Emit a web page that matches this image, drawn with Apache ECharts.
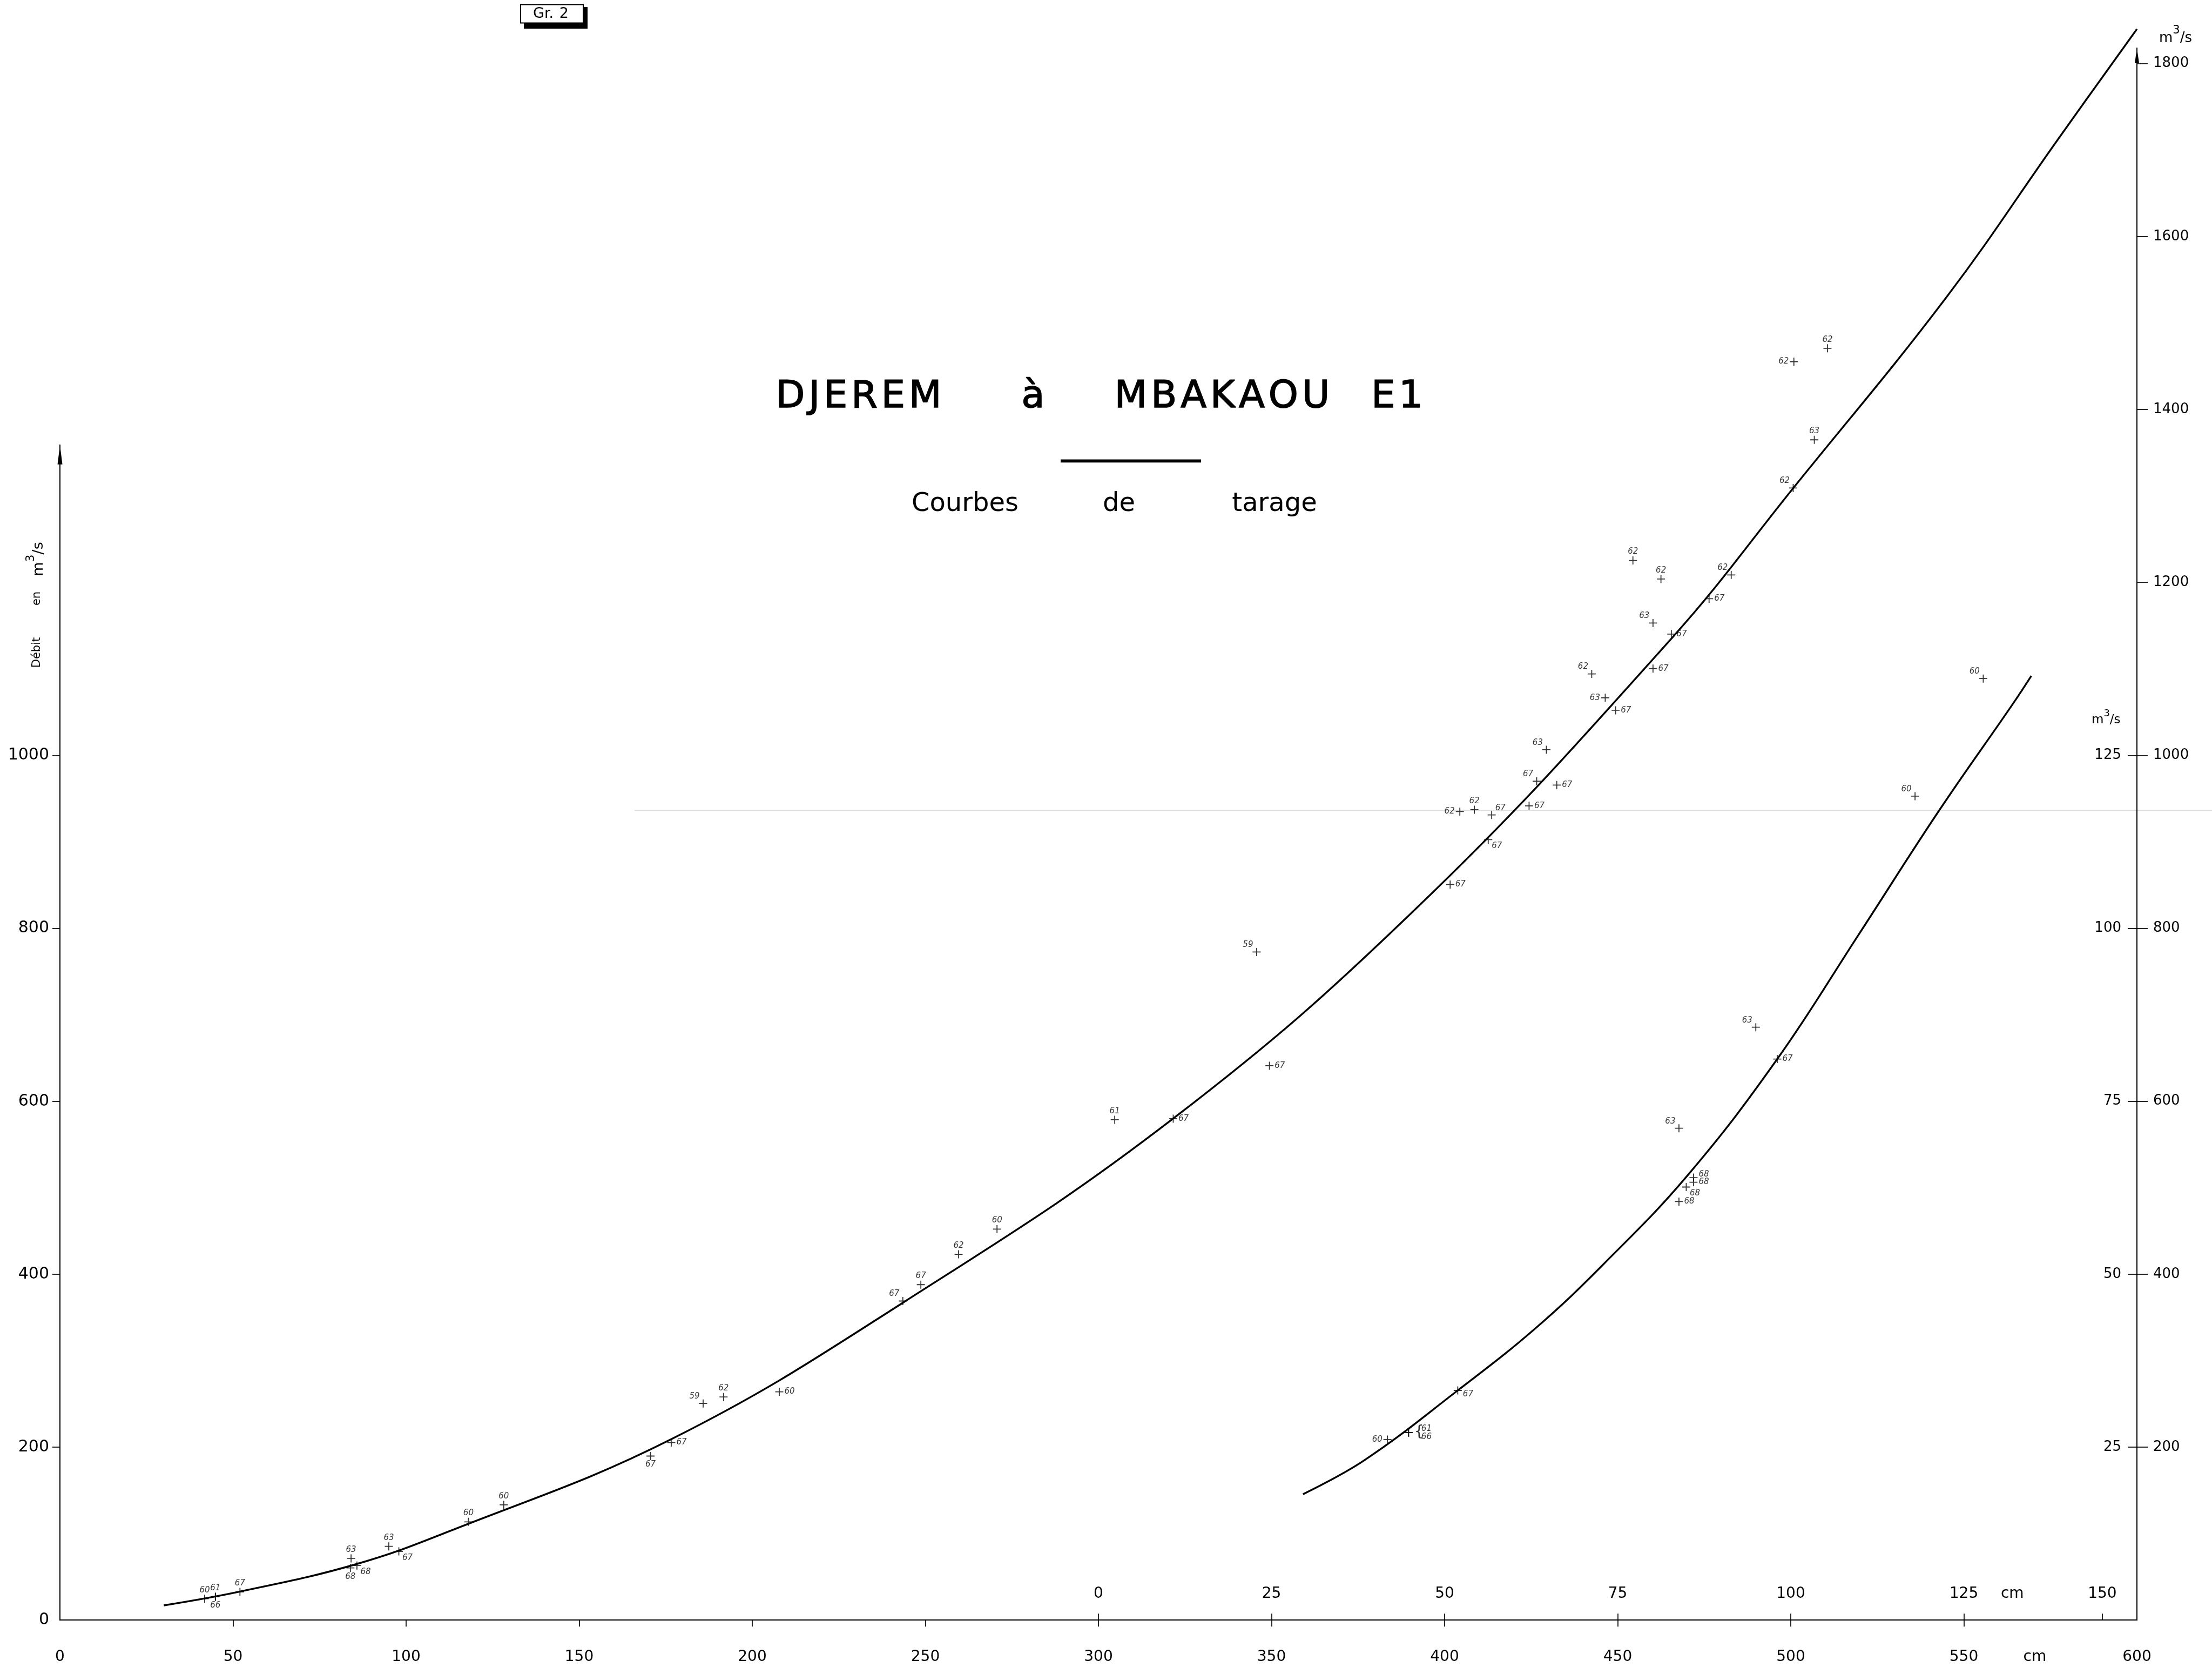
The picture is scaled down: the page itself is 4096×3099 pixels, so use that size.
<!DOCTYPE html>
<html>
<head>
<meta charset="utf-8">
<script src="https://cdn.jsdelivr.net/npm/echarts@6/dist/echarts.min.js"></script>
<style>
html,body{margin:0;padding:0;background:#fff;}
#c{width:4096px;height:3099px;}
</style>
</head>
<body>
<div id="c"></div>
<script>
// ---------------- DATA ----------------
// Main scale (hauteur 0-600 cm, débit 0-1800 m3/s)
const xTickVals = [0, 50, 100, 150, 200, 250, 300, 350, 400, 450, 500, 550, 600];
const xUnitVal = 570.5;
const xUnitText = 'cm';
const yLeftTickVals = [0, 200, 400, 600, 800, 1000];
const yRightTickVals = [200, 400, 600, 800, 1000, 1200, 1400, 1600, 1800];
// Secondary scale (hauteur 0-150 cm, débit 0-125 m3/s)
const secXTickVals = [0, 25, 50, 75, 100, 125, 145];
const secXTickText = ['0', '25', '50', '75', '100', '125', '150'];
const secXUnitVal = 132;
const secYTickVals = [25, 50, 75, 100, 125];

// Courbe de tarage principale (cm, m3/s)
const mainCurveX = [30, 52, 85, 112, 177, 243.5, 321.6, 392.3, 465.5, 500.7, 545, 577.3, 600];
const mainCurveY = [17, 33, 64, 102, 210, 367, 580, 825, 1135, 1309, 1530, 1713, 1840];

// Courbe de tarage basses eaux (échelle secondaire: cm, m3/s)
const secCurveX = [29.55, 38.4, 51.9, 63.15, 72.9, 85.15, 98.05, 109.75, 121.45, 132.05, 134.75];
const secCurveY = [18.2, 23.1, 33.2, 42.2, 51.4, 64.35, 81.1, 99.0, 117.06, 132.4, 136.5];

// Jaugeages (échelle principale)
const mainPtX = [41.8, 44.9, 44.9, 52.0, 84.1, 83.9, 85.8, 95.0, 97.9, 118.0, 128.2, 170.6, 176.6, 185.8, 191.7, 207.8, 243.5, 248.7, 259.6, 270.7, 304.7, 321.6, 345.7, 349.4, 401.6, 412.6, 404.4, 408.6, 413.6, 424.4, 426.6, 432.4, 429.4, 446.4, 449.4, 442.5, 460.2, 465.5, 460.2, 462.5, 454.4, 476.4, 482.8, 500.7, 506.8, 500.9, 510.6];
const mainPtY = [24.7, 27.0, 27.0, 32.6, 71.4, 60.3, 63.1, 85.3, 79.4, 113.6, 133.2, 189.7, 205.3, 250.5, 258.0, 264.0, 369.0, 387.9, 423.0, 452.1, 578.6, 579.9, 772.6, 641.1, 850.7, 902.5, 935.0, 937.2, 931.1, 941.6, 970.1, 965.7, 1006.5, 1066.6, 1052.1, 1094.2, 1100.4, 1140.3, 1153.0, 1203.9, 1225.4, 1181.1, 1208.7, 1309.2, 1364.9, 1455.3, 1470.7];
const mainPtYear = ['60', '61', '66', '67', '63', '68', '68', '63', '67', '60', '60', '67', '67', '59', '62', '60', '67', '67', '62', '60', '61', '67', '59', '67', '67', '67', '62', '62', '67', '67', '67', '67', '63', '63', '67', '62', '67', '67', '63', '62', '62', '67', '62', '62', '63', '62', '62'];

// Jaugeages (échelle secondaire)
const secPtX = [41.75, 44.8, 51.9, 85.95, 85.95, 84.9, 83.85, 83.85, 98.05, 94.95, 117.95, 127.8];
const secPtY = [26.1, 27.1, 33.2, 63.96, 63.3, 62.6, 60.5, 71.1, 81.1, 85.7, 119.1, 136.1];
const secPtYear = ['60', '61/66', '67', '68', '68', '68', '68', '63', '67', '63', '60', '60'];

// ---------------- STYLE (label placement codes) ----------------
const mainPtPlace = ['T', 'T', 'B', 'T', 'T', 'B', 'BR', 'T', 'BR', 'T', 'T', 'B', 'R', 'TL', 'T', 'R', 'TL', 'T', 'T', 'T', 'T', 'R', 'TL', 'R', 'R', 'BR', 'L', 'T', 'TR', 'R', 'TL', 'R', 'TL', 'L', 'R', 'TL', 'R', 'R', 'TL', 'T', 'T', 'R', 'TL', 'TL', 'T', 'L', 'T'];
const secPtPlace = ['L', 'RB', 'RD', 'RU', 'R', 'BR', 'R', 'TL', 'R', 'TL', 'TL', 'TL'];

const FONT = 'DejaVu Sans';
const BLACK = '#000';
const SYM = 15;
const CROSS = 'path://M4.4,0H5.6V4.4H10V5.6H5.6V10H4.4V5.6H0V4.4H4.4Z';

function placeLabel(p) {
  switch (p) {
    case 'T': return { position: 'top', distance: 1 };
    case 'B': return { position: 'bottom', distance: 1 };
    case 'R': return { position: 'right', distance: 2 };
    case 'L': return { position: 'left', distance: 2 };
    case 'RU': return { position: 'right', distance: 2, offset: [0, -6] };
    case 'RD': return { position: 'right', distance: 2, offset: [0, 7] };
    case 'RB': return { position: 'right', distance: 2, offset: [14, 0] };
    case 'TL': return { position: [1, 2], align: 'right', verticalAlign: 'bottom' };
    case 'TR': return { position: [SYM - 1, 2], align: 'left', verticalAlign: 'bottom' };
    case 'BR': return { position: [SYM - 1, SYM - 3], align: 'left', verticalAlign: 'top' };
    default: return { position: 'top' };
  }
}

function pointsData(xs, ys, years, places) {
  return xs.map((x, i) => ({
    value: [x, ys[i]],
    name: years[i].replace('/', '\n'),
    label: Object.assign({ show: true }, placeLabel(places[i]))
  }));
}

const yearLabel = {
  show: true, formatter: p => p.name, color: BLACK, fontSize: 15,
  fontStyle: 'italic', fontFamily: FONT, lineHeight: 15
};

const braceData = secPtX.map((x, i) => ({ x, y: secPtY[i], yr: secPtYear[i] }))
  .filter(d => d.yr.indexOf('/') >= 0)
  .map(d => ({ value: [d.x, d.y], name: '{' }));

const curveStyle = { color: BLACK, width: 3.4 };
const tickLine = { color: BLACK, width: 1.7 };
const axLine = { color: BLACK, width: 2 };
const plain = v => String(v);

const unitRich = (F) => ({
  m: { fontSize: F, fontFamily: FONT, lineHeight: Math.round(F * 1.45), verticalAlign: 'bottom', color: BLACK },
  s: { fontSize: Math.round(F * 0.8), fontFamily: FONT, lineHeight: Math.round(F * 0.8), verticalAlign: 'top', color: BLACK }
});
const spaced = s => s.split('').join('\u200A');

const gridMain = { left: 111, right: 139, top: 88.9, bottom: 99.8 };

function txt(x, y, text, size, extra) {
  return Object.assign({
    type: 'text', silent: true, x: x, y: y,
    style: { text: text, fontSize: size, fontFamily: FONT, fill: BLACK,
      align: 'center', verticalAlign: 'middle', textAlign: 'center', textVerticalAlign: 'middle' }
  }, extra || {});
}
const titleStyle = { stroke: BLACK, lineWidth: 1.6 };

const option = {
  animation: false,
  backgroundColor: '#fff',
  grid: [
    Object.assign({}, gridMain),
    { left: 111, right: 139, top: 823.7, bottom: 99.8 },
    Object.assign({}, gridMain)
  ],
  xAxis: [
    {
      gridIndex: 0, type: 'value', min: 0, max: 600, position: 'bottom',
      axisLine: { show: true, onZero: false, lineStyle: axLine },
      axisTick: { show: true, inside: false, length: 12, lineStyle: tickLine,
        customValues: xTickVals.filter(v => v > 0 && v < 600) },
      axisLabel: { show: true, margin: 55, color: BLACK, fontSize: 28, fontFamily: FONT,
        customValues: xTickVals.concat([xUnitVal]),
        formatter: v => (v === xUnitVal ? xUnitText : String(v)) },
      splitLine: { show: false }
    },
    { gridIndex: 1, type: 'value', min: 0, max: 600, show: false },
    {
      gridIndex: 2, type: 'value', min: -150, max: 150, position: 'bottom',
      axisLine: { show: false, onZero: false },
      axisTick: { show: true, inside: true, length: 12, lineStyle: tickLine, customValues: secXTickVals },
      axisLabel: { show: true, inside: true, margin: 34, color: BLACK, fontSize: 28, fontFamily: FONT,
        customValues: secXTickVals.concat([secXUnitVal]),
        formatter: v => (v === secXUnitVal ? xUnitText : secXTickText[secXTickVals.indexOf(v)]) },
      splitLine: { show: false }
    }
  ],
  yAxis: [
    {
      gridIndex: 0, type: 'value', min: 0, max: 1818, position: 'right',
      axisLine: { show: true, onZero: false, symbol: ['none', 'triangle'], symbolSize: [8, 28],
        symbolOffset: [0, -14], lineStyle: axLine },
      axisTick: { show: true, inside: false, length: 20, lineStyle: tickLine, customValues: yRightTickVals },
      axisLabel: { show: true, margin: 30, color: BLACK, fontSize: 26, fontFamily: FONT,
        customValues: yRightTickVals, formatter: plain },
      splitLine: { show: false }
    },
    {
      gridIndex: 1, type: 'value', min: 0, max: 1359, position: 'left',
      axisLine: { show: true, onZero: false, symbol: ['none', 'triangle'], symbolSize: [9, 36],
        symbolOffset: [0, -18], lineStyle: axLine },
      axisTick: { show: true, inside: false, length: 14, lineStyle: tickLine,
        customValues: yLeftTickVals.filter(v => v > 0) },
      axisLabel: { show: true, margin: 20, color: BLACK, fontSize: 30, fontFamily: FONT,
        customValues: yLeftTickVals, formatter: plain },
      splitLine: { show: false }
    },
    {
      gridIndex: 2, type: 'value', min: 0, max: 1818 / 8, position: 'right',
      axisLine: { show: false, onZero: false },
      axisTick: { show: true, inside: true, length: 17, lineStyle: tickLine, customValues: secYTickVals },
      axisLabel: { show: true, inside: true, margin: 29, color: BLACK, fontSize: 26, fontFamily: FONT,
        customValues: secYTickVals, formatter: plain },
      splitLine: { show: false }
    }
  ],
  series: [
    {
      type: 'line', xAxisIndex: 0, yAxisIndex: 0, silent: true, clip: false, z: 3,
      data: mainCurveX.map((x, i) => [x, mainCurveY[i]]),
      smooth: 0.4, symbol: 'none', showSymbol: false, lineStyle: curveStyle
    },
    {
      type: 'line', xAxisIndex: 2, yAxisIndex: 2, silent: true, clip: false, z: 3,
      data: secCurveX.map((x, i) => [x, secCurveY[i]]),
      smooth: 0.4, symbol: 'none', showSymbol: false, lineStyle: curveStyle
    },
    {
      type: 'scatter', xAxisIndex: 0, yAxisIndex: 0, silent: true, clip: false, z: 4,
      symbol: CROSS, symbolSize: SYM, itemStyle: { color: BLACK },
      label: yearLabel,
      data: pointsData(mainPtX, mainPtY, mainPtYear, mainPtPlace)
    },
    {
      type: 'scatter', xAxisIndex: 2, yAxisIndex: 2, silent: true, clip: false, z: 4,
      symbol: CROSS, symbolSize: SYM, itemStyle: { color: BLACK },
      label: yearLabel,
      data: pointsData(secPtX, secPtY, secPtYear, secPtPlace)
    },
    {
      type: 'scatter', xAxisIndex: 2, yAxisIndex: 2, silent: true, clip: false, z: 4,
      symbol: CROSS, symbolSize: SYM, itemStyle: { color: BLACK },
      label: { show: true, formatter: p => p.name, position: 'right', distance: 3, color: BLACK,
        fontSize: 28, fontFamily: FONT },
      data: braceData
    }
  ],
  graphic: [
    // fold line of the scanned sheet
    { type: 'line', silent: true, z: 0, shape: { x1: 1175, y1: 1500, x2: 4096, y2: 1500 },
      style: { stroke: '#bdbdbd', lineWidth: 1.2 } },
    // "Gr. 2" box
    { type: 'rect', silent: true, shape: { x: 970, y: 13, width: 118, height: 40 }, style: { fill: BLACK } },
    { type: 'rect', silent: true, shape: { x: 964, y: 8.5, width: 116, height: 34 },
      style: { fill: '#fff', stroke: BLACK, lineWidth: 2 } },
    txt(1020, 26, 'Gr.\u2009\u20092', 27),
    // title
    (function () { const t = txt(1590, 736, spaced('DJEREM'), 70); Object.assign(t.style, titleStyle); return t; })(),
    (function () { const t = txt(1913, 736, 'à', 70); Object.assign(t.style, titleStyle); return t; })(),
    (function () { const t = txt(2263, 736, spaced('MBAKAOU'), 70); Object.assign(t.style, titleStyle); return t; })(),
    (function () { const t = txt(2587, 736, spaced('E1'), 70); Object.assign(t.style, titleStyle); return t; })(),
    { type: 'rect', silent: true, shape: { x: 1964, y: 850.6, width: 260, height: 5.7 }, style: { fill: BLACK } },
    // subtitle
    txt(1787, 934, 'Courbes', 48),
    txt(2072, 934, 'de', 48),
    txt(2360, 934, 'tarage', 48),
    // left axis name
    txt(69, 1208, 'Débit', 21, { rotation: Math.PI / 2 }),
    txt(69, 1108, 'en', 21, { rotation: Math.PI / 2 }),
    { type: 'text', silent: true, x: 66, y: 1035, rotation: Math.PI / 2, style: { text: '{m|m}{s|3}{m|/s}', rich: unitRich(27),
      fill: BLACK, align: 'center', verticalAlign: 'middle', textAlign: 'center', textVerticalAlign: 'middle' } },
    // right axis units
    { type: 'text', silent: true, x: 3998, y: 84, style: { text: '{m|m}{s|3}{m|/s}', rich: unitRich(26), fill: BLACK,
      align: 'left', verticalAlign: 'bottom', textAlign: 'left', textVerticalAlign: 'bottom' } },
    { type: 'text', silent: true, x: 3873, y: 1345, style: { text: '{m|m}{s|3}{m|/s}', rich: unitRich(23), fill: BLACK,
      align: 'left', verticalAlign: 'bottom', textAlign: 'left', textVerticalAlign: 'bottom' } }
  ]
};

const chart = echarts.init(document.getElementById('c'), null, { renderer: 'canvas', width: 4096, height: 3099 });
chart.setOption(option);
</script>
</body>
</html>
